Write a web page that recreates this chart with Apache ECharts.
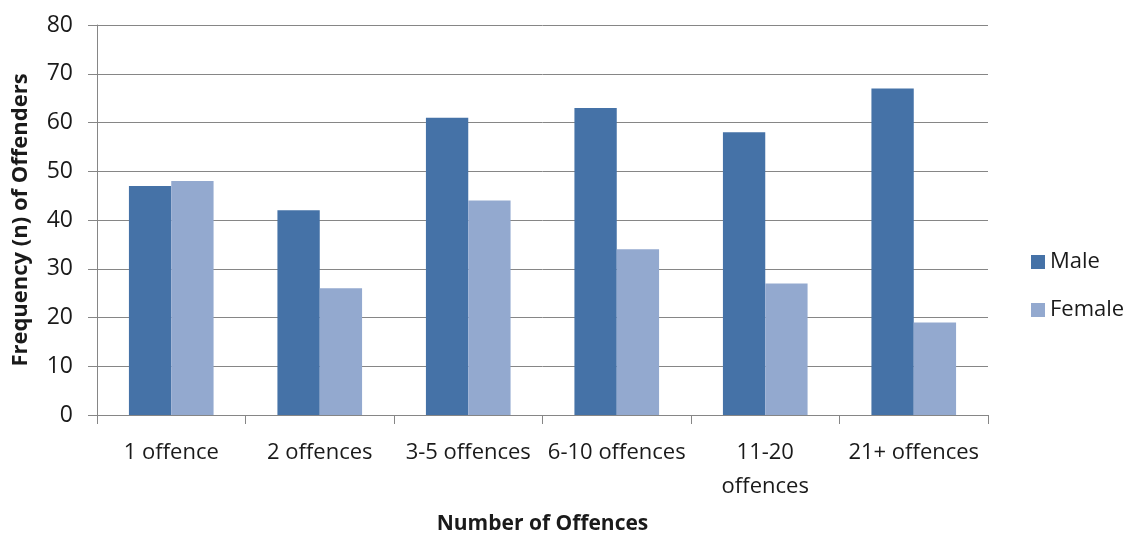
<!DOCTYPE html>
<html><head><meta charset="utf-8">
<script src="https://cdn.jsdelivr.net/npm/echarts@6/dist/echarts.min.js"></script>
<style>html,body{margin:0;padding:0;background:#fff}#c{width:1134px;height:534px}</style>
</head><body><div id="c"></div>
<script>
const categories = ['1 offence', '2 offences', '3-5 offences', '6-10 offences', '11-20\noffences', '21+ offences'];
const male = [47, 42, 61, 63, 58, 67];
const female = [48, 26, 44, 34, 27, 19];
const yTicks = { min: 0, max: 80, interval: 10 };

const chart = echarts.init(document.getElementById('c'), null, { renderer: 'canvas' });
const font = '"Open Sans", Lato, sans-serif';
chart.setOption({
  animation: false,
  backgroundColor: '#fff',
  textStyle: { fontFamily: font },
  grid: { left: 97, right: 146, top: 25, bottom: 119, containLabel: false, outerBoundsMode: 'none' },
  legend: {
    orient: 'vertical', left: 1026, top: 246, itemWidth: 14, itemHeight: 14, itemGap: 26,
    icon: 'rect',
    textStyle: { fontSize: 22, color: '#1a1a1a', fontFamily: font },
    data: ['Male', 'Female']
  },
  xAxis: {
    type: 'category', data: categories,
    name: 'Number of Offences', nameLocation: 'middle', nameGap: 99,
    nameTextStyle: { fontSize: 21, fontWeight: 'bold', color: '#1a1a1a', fontFamily: font },
    axisLine: { lineStyle: { color: '#868686' } },
    axisTick: { show: true, length: 9, lineStyle: { color: '#868686' } },
    axisLabel: { fontSize: 22, color: '#1a1a1a', margin: 21, interval: 0, lineHeight: 34, fontFamily: font }
  },
  yAxis: {
    type: 'value', min: yTicks.min, max: yTicks.max, interval: yTicks.interval,
    name: 'Frequency (n) of Offenders', nameLocation: 'middle', nameGap: 65,
    nameTextStyle: { fontSize: 22, fontWeight: 'bold', color: '#1a1a1a', fontFamily: font },
    axisLine: { show: true, lineStyle: { color: '#868686' } },
    axisTick: { show: true, length: 9, lineStyle: { color: '#868686' } },
    axisLabel: { fontSize: 23, color: '#1a1a1a', margin: 24, fontFamily: font },
    splitLine: { lineStyle: { color: '#868686' } }
  },
  series: [
    { name: 'Male', type: 'bar', data: male, barGap: '0%', barCategoryGap: '43%', itemStyle: { color: '#4572A7' } },
    { name: 'Female', type: 'bar', data: female, itemStyle: { color: '#93A9CF' } }
  ]
});
</script></body></html>
